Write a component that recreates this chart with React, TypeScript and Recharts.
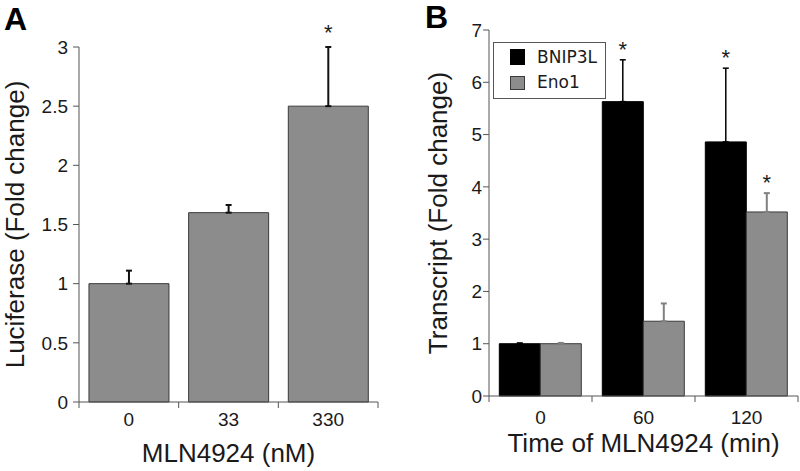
import React from 'react';
import { BarChart, Bar, XAxis, YAxis, ErrorBar, LabelList, Legend } from 'recharts';

// Panel A: luciferase reporter vs MLN4924 dose
const doseLabels = ['0', '33', '330'];
const luciferase = [1.0, 1.6, 2.5];
const luciferaseErr = [0.11, 0.065, 0.5];
const luciferaseSig = [false, false, true];
const luciferaseTicks = [0, 0.5, 1, 1.5, 2, 2.5, 3];

// Panel B: transcripts vs time of MLN4924
const timeLabels = ['0', '60', '120'];
const seriesNames = ['BNIP3L', 'Eno1'];
const bnip3l = [1.0, 5.63, 4.86];
const bnip3lErr = [0.015, 0.8, 1.41];
const bnip3lSig = [false, true, true];
const eno1 = [1.0, 1.43, 3.52];
const eno1Err = [0.015, 0.34, 0.36];
const eno1Sig = [false, false, true];
const transcriptTicks = [0, 1, 2, 3, 4, 5, 6, 7];

const font = '"Liberation Sans", Arial, sans-serif';
const legendFont = '"DejaVu Sans", Verdana, sans-serif';
const textColor = '#1a1a1a';
const axisColor = '#555';
const grayFill = '#8c8c8c';
const grayEdge = '#3a3a3a';

const dataA = doseLabels.map((dose, i) => ({
  dose,
  value: luciferase[i],
  err: [0, luciferaseErr[i]],
}));

const dataB = timeLabels.map((time, i) => ({
  time,
  bnip3l: bnip3l[i],
  bnip3lErr: [0, bnip3lErr[i]],
  eno1: eno1[i],
  eno1Err: [0, eno1Err[i]],
}));

// layout
const A = { w: 400, h: 471, margin: { top: 47, right: 22, bottom: 9, left: 0 }, yw: 79, xh: 60 };
const B = { w: 400, h: 471, margin: { top: 30, right: 2, bottom: 19, left: 0 }, yw: 89, xh: 56 };

// x ticks sit on the category boundaries, labels at the centres
const makeXTick = (band: number, count: number, gap: number) => (props: any) => {
  const { x, y, payload, index } = props;
  const half = band / 2;
  return (
    <g>
      <line x1={x - half} y1={y} x2={x - half} y2={y + 6} stroke={axisColor} />
      {index === count - 1 && <line x1={x + half} y1={y} x2={x + half} y2={y + 6} stroke={axisColor} />}
      <text x={x} y={y + gap} dy="0.71em" textAnchor="middle" fontSize={19} fontFamily={font} fill={textColor}>
        {payload.value}
      </text>
    </g>
  );
};

// asterisk above the error bar of significant bars
const makeStar = (vals: number[], errs: number[], sig: boolean[], lift: number) => (props: any) => {
  const { x, y, width, height, index } = props;
  if (!sig[index]) return null;
  const perUnit = height / vals[index];
  const top = y - errs[index] * perUnit;
  return (
    <text x={x + width / 2} y={top - lift} textAnchor="middle" fontSize={22} fontFamily={font} fill={textColor}>
      *
    </text>
  );
};

const LegendBox = () => (
  <div
    style={{
      position: 'relative',
      width: 113,
      height: 57,
      boxSizing: 'border-box',
      border: '1px solid #555',
      background: '#fff',
      fontFamily: legendFont,
      fontSize: 17,
      color: textColor,
    }}
  >
    {seriesNames.map((name, i) => (
      <React.Fragment key={name}>
        <div
          style={{
            position: 'absolute',
            left: 16,
            top: i === 0 ? 6 : 33,
            width: 15,
            height: i === 0 ? 16 : 14,
            boxSizing: 'border-box',
            background: i === 0 ? '#000' : grayFill,
            border: `1px solid ${i === 0 ? '#000' : grayEdge}`,
          }}
        />
        <div style={{ position: 'absolute', left: 43, top: i === 0 ? 4 : 29, lineHeight: '20px' }}>{name}</div>
      </React.Fragment>
    ))}
  </div>
);

const panelLetter = (letter: string, left: number, top: number) => (
  <div
    style={{
      position: 'absolute',
      left,
      top,
      fontFamily: font,
      fontWeight: 'bold',
      fontSize: 32,
      lineHeight: 1,
      color: '#000',
    }}
  >
    {letter}
  </div>
);

const App: React.FC = () => {
  const bandA = (A.w - A.margin.left - A.margin.right - A.yw) / doseLabels.length;
  const bandB = (B.w - B.margin.left - B.margin.right - B.yw) / timeLabels.length;

  return (
    <div style={{ position: 'absolute', left: 0, top: 0, width: 800, height: 471, background: '#fff' }}>
      <div style={{ position: 'absolute', left: 0, top: 0 }}>
        <BarChart width={A.w} height={A.h} data={dataA} margin={A.margin} barCategoryGap="10%">
          <XAxis
            dataKey="dose"
            height={A.xh}
            interval={0}
            tickLine={false}
            tickSize={0}
            tickMargin={0}
            axisLine={{ stroke: axisColor }}
            tick={makeXTick(bandA, doseLabels.length, 11)}
            label={{
              value: 'MLN4924 (nM)',
              position: 'insideBottom',
              offset: 0,
              fontSize: 26,
              fontFamily: font,
              fill: textColor,
            }}
          />
          <YAxis
            width={A.yw}
            domain={[0, 3]}
            ticks={luciferaseTicks}
            interval={0}
            tickSize={6}
            tickMargin={5}
            axisLine={{ stroke: axisColor }}
            tickLine={{ stroke: axisColor }}
            tick={{ fontSize: 19, fontFamily: font, fill: textColor }}
            label={{
              value: 'Luciferase (Fold change)',
              angle: -90,
              position: 'center',
              dx: -24.5,
              fontSize: 26,
              fontFamily: font,
              fill: textColor,
            }}
          />
          <Bar dataKey="value" fill={grayFill} stroke={grayEdge} strokeWidth={1} isAnimationActive={false}>
            <ErrorBar dataKey="err" direction="y" width={3} stroke="#111" strokeWidth={2} />
            <LabelList dataKey="value" content={makeStar(luciferase, luciferaseErr, luciferaseSig, 7)} />
          </Bar>
        </BarChart>
      </div>

      <div style={{ position: 'absolute', left: 400, top: 0 }}>
        <BarChart width={B.w} height={B.h} data={dataB} margin={B.margin} barCategoryGap="10%" barGap={0}>
          <XAxis
            dataKey="time"
            height={B.xh}
            interval={0}
            tickLine={false}
            tickSize={0}
            tickMargin={0}
            axisLine={{ stroke: axisColor }}
            tick={makeXTick(bandB, timeLabels.length, 15)}
            label={{
              value: 'Time of MLN4924 (min)',
              position: 'insideBottom',
              offset: 0,
              fontSize: 26,
              fontFamily: font,
              fill: textColor,
            }}
          />
          <YAxis
            width={B.yw}
            domain={[0, 7]}
            ticks={transcriptTicks}
            interval={0}
            tickSize={6}
            tickMargin={1}
            axisLine={{ stroke: axisColor }}
            tickLine={{ stroke: axisColor }}
            tick={{ fontSize: 19, fontFamily: font, fill: textColor }}
            label={{
              value: 'Transcript (Fold change)',
              angle: -90,
              position: 'center',
              dx: -7,
              fontSize: 26,
              fontFamily: font,
              fill: textColor,
            }}
          />
          <Legend
            layout="vertical"
            align="center"
            verticalAlign="middle"
            content={() => <LegendBox />}
            wrapperStyle={{ left: 93, top: 42, width: 113, height: 57 }}
          />
          <Bar dataKey="bnip3l" name={seriesNames[0]} fill="#000" stroke="#000" isAnimationActive={false}>
            <ErrorBar dataKey="bnip3lErr" direction="y" width={3} stroke="#000" strokeWidth={1.5} />
            <LabelList dataKey="bnip3l" content={makeStar(bnip3l, bnip3lErr, bnip3lSig, 3)} />
          </Bar>
          <Bar dataKey="eno1" name={seriesNames[1]} fill={grayFill} stroke={grayEdge} isAnimationActive={false}>
            <ErrorBar dataKey="eno1Err" direction="y" width={3} stroke="#808080" strokeWidth={2} />
            <LabelList dataKey="eno1" content={makeStar(eno1, eno1Err, eno1Sig, 3)} />
          </Bar>
        </BarChart>
      </div>

      {panelLetter('A', 4, 3)}
      {panelLetter('B', 425, 1)}
    </div>
  );
};

export default App;
